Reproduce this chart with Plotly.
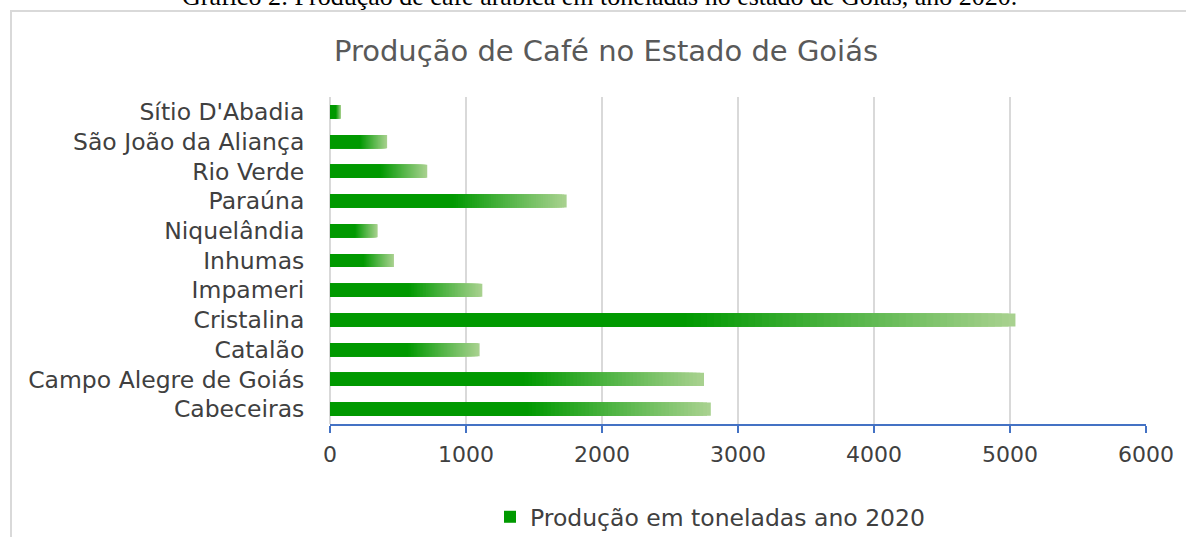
import plotly.graph_objects as go

# ---------------- data ----------------
categories = [
    "Cabeceiras",
    "Campo Alegre de Goiás",
    "Catalão",
    "Cristalina",
    "Impameri",
    "Inhumas",
    "Niquelândia",
    "Paraúna",
    "Rio Verde",
    "São João da Aliança",
    "Sítio D'Abadia",
]
production = [2800, 2750, 1100, 5040, 1120, 470, 350, 1740, 715, 420, 80]
x_tickvals = [0, 1000, 2000, 3000, 4000, 5000, 6000]
series_name = "Produção em toneladas ano 2020"
chart_title = "Produção de Café no Estado de Goiás"
caption = "Gráfico 2: Produção de café arábica em toneladas no estado de Goiás, ano 2020."

# ---------------- style ----------------
W, H = 1186, 537
L, R, T, B = 330, 40, 97, 113
PW, PH = W - L - R, H - T - B

DARK = (0, 153, 0)
LIGHT = (170, 210, 145)
SOLID_FRAC = 0.52
STEPS = 48
LABEL_FONT = "DejaVu Sans"


def px_x(p):
    return (p - L) / PW


def px_y(p):
    return (H - B - p) / PH


def mix(t):
    t = max(0.0, min(1.0, t))
    r, g, b = (round(DARK[i] + t * (LIGHT[i] - DARK[i])) for i in range(3))
    return f"rgb({r},{g},{b})"


fig = go.Figure()

# gradient bars: overlaid, progressively shorter & darker bars
step = (1 - SOLID_FRAC) / STEPS
for k in range(STEPS + 1):
    f = 1 - k * step
    is_last = k == STEPS
    mid = f - step / 2
    color = mix((mid - SOLID_FRAC) / (1 - SOLID_FRAC)) if not is_last else mix(0)
    fig.add_trace(
        go.Bar(
            y=categories,
            x=[v * f for v in production],
            orientation="h",
            width=0.44,
            marker=dict(color=color, line=dict(width=0)),
            name=series_name,
            showlegend=is_last,
            hoverinfo="skip" if not is_last else None,
        )
    )

fig.update_layout(
    width=W,
    height=H,
    autosize=False,
    barmode="overlay",
    paper_bgcolor="white",
    plot_bgcolor="white",
    margin=dict(l=L, r=R, t=T, b=B, autoexpand=False),
    title=dict(
        text=chart_title,
        font=dict(family=LABEL_FONT, size=29, color="#595959"),
        x=606 / W,
        xanchor="center",
        xref="container",
        y=1 - 51 / H,
        yanchor="middle",
        yref="container",
    ),
    xaxis=dict(
        range=[0, 6000],
        tickvals=x_tickvals,
        automargin=False,
        showgrid=True,
        gridcolor="#d9d9d9",
        gridwidth=2,
        zeroline=True,
        zerolinecolor="#d9d9d9",
        zerolinewidth=2,
        showline=True,
        linecolor="#4472c4",
        linewidth=2,
        ticks="outside",
        ticklen=7,
        tickwidth=2,
        tickcolor="#4472c4",
        ticklabelstandoff=3,
        tickfont=dict(family=LABEL_FONT, size=22, color="#404040"),
        fixedrange=True,
    ),
    yaxis=dict(
        type="category",
        categoryorder="array",
        categoryarray=categories,
        range=[-0.5, len(categories) - 0.5],
        automargin=False,
        showgrid=False,
        zeroline=False,
        showline=False,
        ticks="outside",
        ticklen=20,
        tickcolor="rgba(0,0,0,0)",
        tickfont=dict(family=LABEL_FONT, size=23.5, color="#404040"),
        fixedrange=True,
    ),
    showlegend=True,
    legend=dict(
        orientation="h",
        xref="container",
        yref="container",
        x=490 / W,
        xanchor="left",
        y=1 - 517 / H,
        yanchor="middle",
        font=dict(family=LABEL_FONT, size=23.5, color="#404040"),
        bgcolor="rgba(0,0,0,0)",
        itemwidth=30,
    ),
    shapes=[
        dict(
            type="rect",
            xref="paper",
            yref="paper",
            x0=px_x(11),
            x1=px_x(W + 20),
            y0=px_y(H + 20),
            y1=px_y(11),
            line=dict(color="#d9d9d9", width=2),
            fillcolor="rgba(0,0,0,0)",
            layer="below",
        )
    ],
    annotations=[
        dict(
            text=caption,
            xref="paper",
            yref="paper",
            x=px_x(599),
            y=px_y(-4),
            xanchor="center",
            yanchor="middle",
            showarrow=False,
            font=dict(family="Liberation Serif", size=26, color="#000000"),
        )
    ],
)

fig.write_html(
    "out.html",
    config={"displayModeBar": False, "responsive": False},
    post_script="document.body.style.margin='0';document.body.style.overflow='hidden';",
)
